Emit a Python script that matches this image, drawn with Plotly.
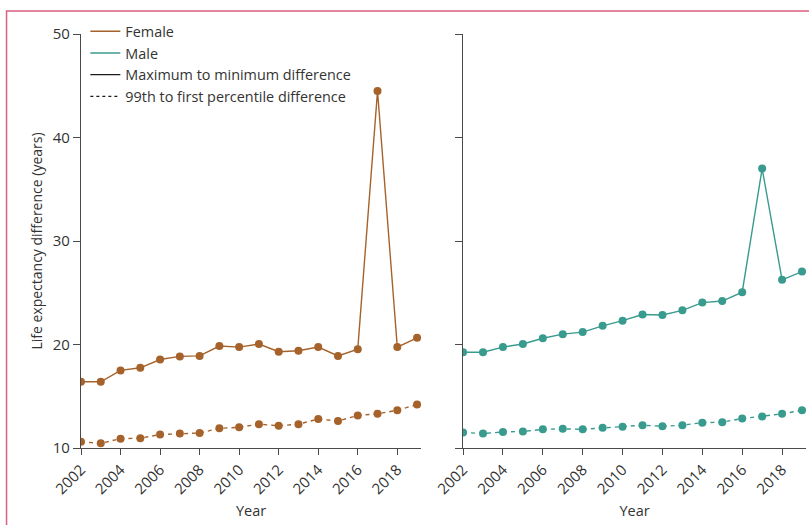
import plotly.graph_objects as go
from plotly.subplots import make_subplots

years = list(range(2002, 2020))

female_maxmin = [16.4, 16.4, 17.5, 17.75, 18.55, 18.85, 18.9, 19.85, 19.75, 20.05,
                 19.3, 19.4, 19.75, 18.9, 19.55, 44.5, 19.75, 20.65]
female_p99_p1 = [10.6, 10.45, 10.9, 10.95, 11.3, 11.4, 11.45, 11.9, 12.0, 12.3,
                 12.15, 12.3, 12.8, 12.6, 13.15, 13.3, 13.65, 14.2]
male_maxmin = [19.25, 19.25, 19.75, 20.05, 20.6, 21.0, 21.2, 21.8, 22.3, 22.9,
               22.85, 23.3, 24.05, 24.2, 25.05, 37.0, 26.25, 27.05]
male_p99_p1 = [11.5, 11.4, 11.55, 11.6, 11.8, 11.85, 11.8, 11.95, 12.05, 12.2,
               12.1, 12.2, 12.45, 12.5, 12.85, 13.05, 13.3, 13.65]

year_ticks = list(range(2002, 2020, 2))
y_ticks = [10, 20, 30, 40, 50]

BROWN = "#a5622b"
TEAL = "#389b8e"
INK = "#333333"
AXIS = "#4a4a4a"
FONT = "Open Sans"
DASH = "4px,4px"

fig = make_subplots(rows=1, cols=2, horizontal_spacing=0.06)

panels = [
    (1, female_maxmin, female_p99_p1, BROWN),
    (2, male_maxmin, male_p99_p1, TEAL),
]
for col, solid_vals, dashed_vals, color in panels:
    fig.add_trace(go.Scatter(
        x=years, y=solid_vals, mode="lines+markers",
        line=dict(color=color, width=1.4),
        marker=dict(color=color, size=8),
        showlegend=False, hoverinfo="x+y"), row=1, col=col)
    fig.add_trace(go.Scatter(
        x=years, y=dashed_vals, mode="lines+markers",
        line=dict(color=color, width=1.4, dash=DASH),
        marker=dict(color=color, size=8),
        showlegend=False, hoverinfo="x+y"), row=1, col=col)

# Legend keys
legend_items = [
    ("Female", BROWN, "solid"),
    ("Male", TEAL, "solid"),
    ("Maximum to minimum difference", "#1a1a1a", "solid"),
    ("99th to first percentile difference", "#1a1a1a", "3px,3px"),
]
for name, color, dash in legend_items:
    fig.add_trace(go.Scatter(
        x=[None], y=[None], mode="lines", name=name,
        line=dict(color=color, width=1.4, dash=dash)), row=1, col=1)

axis_common = dict(
    showline=True, linecolor=AXIS, linewidth=1.4, showgrid=False, zeroline=False,
    ticks="outside", tickcolor=AXIS, tickwidth=1.4,
    tickfont=dict(family=FONT, size=15, color=INK),
)

for col in (1, 2):
    fig.update_xaxes(
        range=[2002, 2019.2], tickvals=year_ticks, ticktext=[str(t) for t in year_ticks],
        tickangle=-45, ticklen=6,
        title=dict(text="Year", font=dict(family=FONT, size=14.5, color=INK), standoff=8),
        **axis_common, row=1, col=col)
    fig.update_yaxes(
        range=[10, 50], tickvals=y_ticks, ticklen=7,
        showticklabels=(col == 1),
        **axis_common, row=1, col=col)

fig.update_yaxes(
    title=dict(text="Life expectancy difference (years)",
               font=dict(family=FONT, size=14, color=INK), standoff=6),
    row=1, col=1)

fig.update_layout(
    xaxis=dict(domain=[0.0, 0.469]),
    xaxis2=dict(domain=[0.527, 1.0]),
    width=809, height=525,
    margin=dict(l=81, r=3, t=34, b=77),
    paper_bgcolor="white", plot_bgcolor="white",
    font=dict(family=FONT, size=14, color=INK),
    legend=dict(x=0.006, y=1.045, xanchor="left", yanchor="top",
                bgcolor="rgba(0,0,0,0)", tracegroupgap=0,
                font=dict(family=FONT, size=14.4, color=INK), itemwidth=30),
    shapes=[dict(type="rect", xref="paper", yref="paper",
                 x0=-0.1027, x1=1.2, y0=1.0556, y1=-0.4,
                 line=dict(color="#d9607f", width=1.5), layer="below")],
)

fig.write_html("out.html")
